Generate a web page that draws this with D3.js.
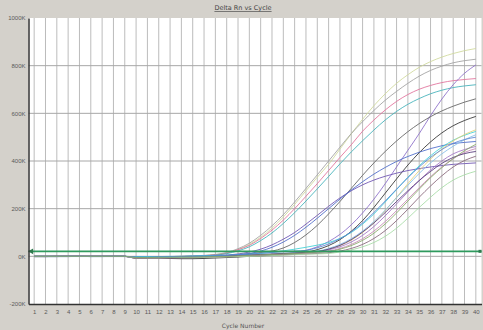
<!DOCTYPE html>
<html>
<head>
<meta charset="utf-8">
<script src="https://cdn.jsdelivr.net/npm/d3@7"></script>
<style>
  body { margin: 0; background: #d4d1cb; }
  svg { display: block; font-family: "DejaVu Sans", sans-serif; }
  .tick text { fill: #5a5a5a; font-size: 6px; }
</style>
</head>
<body>
<div id="chart"></div>
<script>
// cycles and y ticks
const cycles = d3.range(1, 41);
const yTicks = [-200, 0, 200, 400, 600, 800, 1000];

// delta Rn per well (in K), cycle 1..40
const wellColors = [
  "#cfd89a", "#a0a0a0", "#e0709a", "#40b0b8", "#8a6cc8", "#606060", "#303030",
  "#6a4fb0", "#4a68c8", "#3fd0d6", "#e2d27a", "#86bde6", "#a274c4", "#c688b4",
  "#543578", "#866478", "#a6dca4", "#5884d4", "#86a866"
];
const wellValues = [
  [-1,-1,-1,0,0,0,0,0,0, -2,-2,-1,-1,0,1,3,7,14,28, 50,80,118,165,218,275,332,386,450,514,575,632,682,726,762,793,817,836,851,863,872],
  [0,-1,-1,-1,0,0,0,0,0, -3,-2,-2,-1,0,2,4,8,16,32, 55,88,128,175,228,285,342,400,458,515,565,612,655,692,726,756,780,798,812,821,827],
  [-1,-1,0,0,0,0,0,0,0, -3,-3,-2,-1,0,1,3,6,13,28, 46,75,110,152,200,252,305,360,415,468,525,572,614,650,679,701,717,729,737,742,746],
  [0,0,0,0,0,-1,-1,0,0, -2,-2,-1,-1,0,1,2,5,11,23, 40,66,98,138,183,232,283,335,388,438,485,530,572,608,638,662,682,697,708,715,720],
  [-1,-1,-1,-1,0,0,0,0,0, -4,-4,-3,-3,-2,-2,-1,0,1,2, 3,5,8,11,15,25,40,62,92,132,182,240,305,375,445,515,590,660,720,768,803],
  [0,0,0,0,0,0,0,0,0, -5,-5,-4,-4,-3,-2,-1,1,3,6, 11,16,22,35,58,90,130,178,230,285,340,392,440,484,523,557,586,610,630,647,661],
  [-1,-1,0,0,0,0,0,0,0, -8,-8,-8,-9,-10,-10,-9,-7,-5,-3, 0,2,5,8,10,17,28,45,70,105,150,205,265,325,383,435,480,518,548,570,587],
  [0,0,0,0,0,-1,-1,-1,-1, -4,-3,-3,-2,-1,0,1,3,5,10, 18,30,48,72,100,135,172,210,245,275,300,320,336,349,360,368,375,381,386,389,392],
  [-1,-1,-1,0,0,0,0,0,0, -3,-3,-2,-2,-1,0,1,2,4,7, 12,22,38,60,88,122,160,200,240,278,313,345,373,398,419,437,452,464,473,478,482],
  [0,0,0,0,0,0,0,0,0, -2,-1,-1,0,0,1,2,3,4,6, 8,12,17,23,30,38,47,58,75,100,135,178,228,280,332,380,422,458,487,508,524],
  [0,0,0,0,0,0,0,0,0, -6,-6,-5,-5,-4,-4,-3,-2,-1,0, 2,4,7,10,13,16,20,30,45,68,100,142,192,248,305,360,408,450,484,511,531],
  [-1,-1,-1,-1,-1,-1,0,0,0, -5,-5,-4,-4,-3,-3,-2,-1,0,2, 4,6,9,12,16,19,22,33,50,74,106,146,194,246,298,348,392,430,462,489,510],
  [0,0,0,0,0,0,0,0,0, -6,-6,-6,-5,-5,-4,-3,-2,-1,0, 2,4,6,9,12,15,18,27,40,60,88,125,170,220,270,318,362,400,430,448,461],
  [0,0,0,0,0,0,0,0,0, -7,-7,-6,-6,-5,-4,-3,-2,-1,1, 3,5,7,9,11,13,15,22,33,50,74,106,146,192,240,288,334,375,410,436,452],
  [0,0,0,0,0,0,0,0,0, -5,-5,-4,-4,-3,-2,-1,0,2,4, 6,8,10,12,14,17,20,30,46,70,102,140,184,230,275,318,356,390,415,431,440],
  [0,0,0,0,0,0,0,0,0, -8,-8,-7,-7,-6,-5,-4,-3,-2,-1, 0,2,4,6,8,10,12,15,22,33,50,75,108,150,198,248,295,338,375,402,420],
  [0,0,0,0,0,0,0,0,0, -6,-6,-6,-5,-5,-4,-4,-3,-2,-1, 0,1,3,5,7,9,10,12,18,27,40,58,84,118,160,205,248,288,320,342,357],
  [0,0,0,0,0,0,0,0,0, -4,-4,-3,-3,-2,-1,0,2,4,7, 10,13,16,19,22,25,36,52,74,103,140,184,232,282,330,375,415,448,474,490,500],
  [0,0,0,0,0,0,0,0,0, -5,-5,-4,-4,-3,-3,-2,-1,0,2, 4,6,8,10,12,15,18,20,30,45,67,97,136,182,232,282,330,372,410,443,470]
];
const threshold = 21;

const width = 483, height = 330;
const plot = { left: 28.5, right: 481.5, top: 18, bottom: 304 };

const svg = d3.select("#chart").append("svg")
  .attr("width", width)
  .attr("height", height);

const x = d3.scaleLinear().domain([0.5, 40.5]).range([plot.left, plot.right]);
const y = d3.scaleLinear().domain([-200, 1000]).range([plot.bottom, plot.top]);

// plot background
svg.append("rect")
  .attr("x", plot.left).attr("y", plot.top)
  .attr("width", plot.right - plot.left).attr("height", plot.bottom - plot.top)
  .attr("fill", "#fff");

// grid
svg.append("g").selectAll("line")
  .data(cycles).enter().append("line")
  .attr("x1", d => x(d)).attr("x2", d => x(d))
  .attr("y1", plot.top).attr("y2", plot.bottom)
  .attr("stroke", "#bcbcbc").attr("stroke-width", 1);

svg.append("g").selectAll("line")
  .data(yTicks.slice(1, -1)).enter().append("line")
  .attr("x1", plot.left).attr("x2", plot.right)
  .attr("y1", d => y(d)).attr("y2", d => y(d))
  .attr("stroke", "#a8a8a8").attr("stroke-width", 1);

// curves
const line = d3.line()
  .x((d, i) => x(cycles[i]))
  .y(d => y(d))
  .curve(d3.curveMonotoneX);

svg.append("g").selectAll("path")
  .data(wellValues).enter().append("path")
  .attr("d", d => line(d))
  .attr("fill", "none")
  .attr("stroke", (d, i) => wellColors[i])
  .attr("stroke-width", 1)
  .attr("opacity", 0.85);

// threshold
svg.append("line")
  .attr("x1", plot.left).attr("x2", plot.right)
  .attr("y1", y(threshold)).attr("y2", y(threshold))
  .attr("stroke", "#2f9a5e").attr("stroke-width", 1.6);
svg.append("path")
  .attr("d", d3.symbol(d3.symbolTriangle, 14)())
  .attr("transform", "translate(" + (plot.left + 3) + "," + y(threshold) + ") rotate(-90)")
  .attr("fill", "#2f7a4e");
svg.append("rect")
  .attr("x", plot.right - 3).attr("y", y(threshold) - 1.5)
  .attr("width", 3).attr("height", 3)
  .attr("fill", "#2f7a4e");

// axes
const yAxis = d3.axisLeft(y).tickValues(yTicks).tickSize(0).tickPadding(3)
  .tickFormat(d => d + "K");
svg.append("g")
  .attr("transform", "translate(" + plot.left + ",0)")
  .call(yAxis)
  .call(g => g.select(".domain").attr("stroke", "#333").attr("stroke-width", 1.5));

const xAxis = d3.axisBottom(x).tickValues(cycles).tickSize(0).tickPadding(6);
svg.append("g")
  .attr("transform", "translate(0," + plot.bottom + ")")
  .call(xAxis)
  .call(g => g.select(".domain").attr("stroke", "#333").attr("stroke-width", 1.5));

// titles
svg.append("text")
  .attr("x", 243).attr("y", 10)
  .attr("text-anchor", "middle")
  .attr("font-size", 6.5)
  .attr("fill", "#444")
  .attr("text-decoration", "underline")
  .text("Delta Rn vs Cycle");

svg.append("text")
  .attr("x", 243).attr("y", 328)
  .attr("text-anchor", "middle")
  .attr("font-size", 6)
  .attr("fill", "#555")
  .text("Cycle Number");
</script>
</body>
</html>
